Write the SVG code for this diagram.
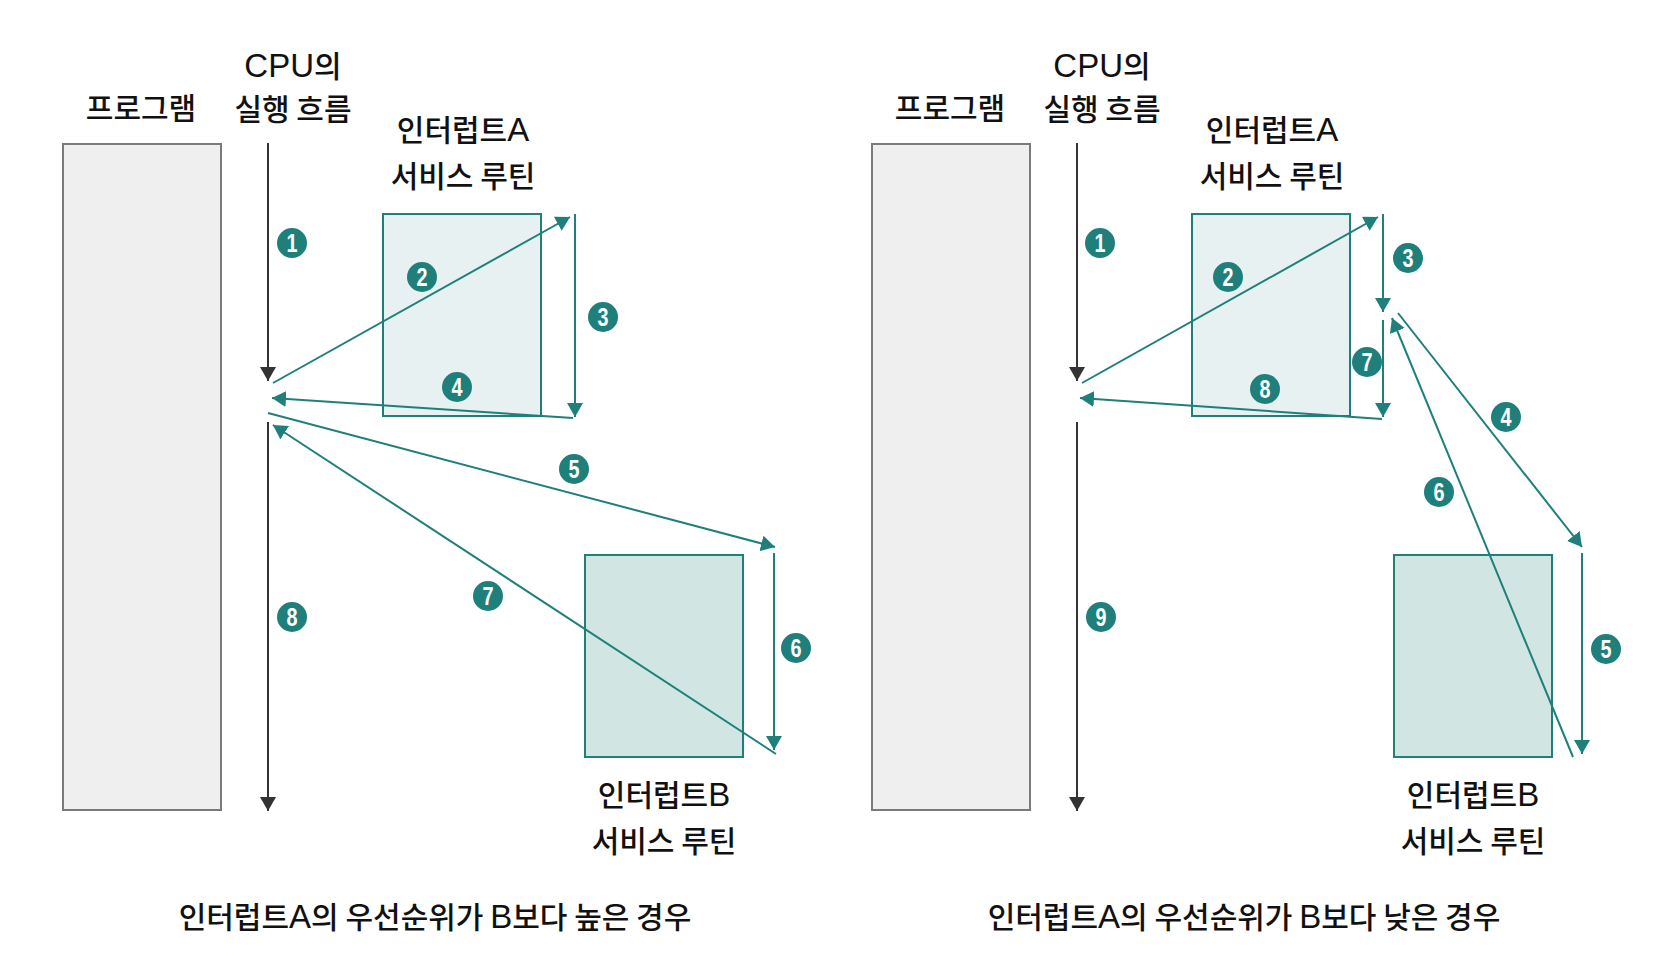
<svg xmlns="http://www.w3.org/2000/svg" width="1654" height="978" viewBox="0 0 1654 978">
<style>
.prog{fill:#efefef;stroke:#7a7a7a;stroke-width:2}
.isrA{fill:#e7f1f1;stroke:#1f7f7a;stroke-width:2}
.isrB{fill:#d1e6e3;stroke:#1f7f7a;stroke-width:2}
.cpu{stroke:#333;stroke-width:2;fill:none}
.tl{stroke:#1f7f7a;stroke-width:2;fill:none;marker-end:url(#ht)}
.cpua{marker-end:url(#hd)}
.lbl{font-family:"Noto Sans CJK KR","Noto Sans",sans-serif;font-size:30px;font-weight:500;fill:#111;text-anchor:middle}
.lat{font-family:"Liberation Sans",Arial,sans-serif;font-size:33px;font-weight:400}
.num circle{fill:#1f7f7a}
.num text{font-family:"Liberation Sans",Arial,sans-serif;font-weight:bold;font-size:25px;fill:#fff;text-anchor:middle}
</style>
<defs>
<marker id="ht" markerUnits="userSpaceOnUse" markerWidth="16" markerHeight="16" refX="14" refY="8" orient="auto" viewBox="0 0 16 16"><path d="M0,0 L14,8 L0,16 z" fill="#1f7f7a"/></marker>
<marker id="hd" markerUnits="userSpaceOnUse" markerWidth="16" markerHeight="16" refX="14" refY="8" orient="auto" viewBox="0 0 16 16"><path d="M0,0 L14,8 L0,16 z" fill="#333"/></marker>
</defs>
<rect width="1654" height="978" fill="#fff"/>

<!-- LEFT PANEL -->
<g id="program-left"><rect class="prog" x="63" y="144" width="158" height="666"/><text class="lbl" x="141" y="119">프로그램</text></g>
<g id="cpu-left"><text class="lbl" x="293" y="77"><tspan class="lat">CPU</tspan>의</text><text class="lbl" x="293" y="120">실행 흐름</text></g>
<g id="isrA-left"><rect class="isrA" x="383" y="214" width="158" height="202"/><text class="lbl" x="463" y="141">인터럽트<tspan class="lat">A</tspan></text><text class="lbl" x="463" y="187">서비스 루틴</text></g>
<g id="isrB-left"><rect class="isrB" x="585" y="555" width="158" height="202"/><text class="lbl" x="664" y="806">인터럽트<tspan class="lat">B</tspan></text><text class="lbl" x="664" y="852">서비스 루틴</text></g>
<text class="lbl" x="435" y="928">인터럽트<tspan class="lat">A</tspan>의 우선순위가 <tspan class="lat">B</tspan>보다 높은 경우</text>

<!-- RIGHT PANEL -->
<g id="program-right"><rect class="prog" x="872" y="144" width="158" height="666"/><text class="lbl" x="950" y="119">프로그램</text></g>
<g id="cpu-right"><text class="lbl" x="1102" y="77"><tspan class="lat">CPU</tspan>의</text><text class="lbl" x="1102" y="120">실행 흐름</text></g>
<g id="isrA-right"><rect class="isrA" x="1192" y="214" width="158" height="202"/><text class="lbl" x="1272" y="141">인터럽트<tspan class="lat">A</tspan></text><text class="lbl" x="1272" y="187">서비스 루틴</text></g>
<g id="isrB-right"><rect class="isrB" x="1394" y="555" width="158" height="202"/><text class="lbl" x="1473" y="806">인터럽트<tspan class="lat">B</tspan></text><text class="lbl" x="1473" y="852">서비스 루틴</text></g>
<text class="lbl" x="1244" y="928">인터럽트<tspan class="lat">A</tspan>의 우선순위가 <tspan class="lat">B</tspan>보다 낮은 경우</text>

<g id="connectors">
<line class="cpu cpua" x1="268" y1="143" x2="268" y2="381"/>
<line class="cpu cpua" x1="268" y1="422" x2="268" y2="811"/>
<line class="tl" x1="273" y1="383" x2="570" y2="217"/>
<line class="tl" x1="575" y1="214" x2="575" y2="417"/>
<line class="tl" x1="573" y1="418" x2="272" y2="398"/>
<line class="tl" x1="268" y1="413" x2="775" y2="547"/>
<line class="tl" x1="774" y1="553" x2="774" y2="750"/>
<line class="tl" x1="776" y1="754" x2="273" y2="425"/>

<line class="cpu cpua" x1="1077" y1="143" x2="1077" y2="381"/>
<line class="cpu cpua" x1="1077" y1="422" x2="1077" y2="811"/>
<line class="tl" x1="1082" y1="383" x2="1378" y2="217"/>
<line class="tl" x1="1383" y1="214" x2="1383" y2="312"/>
<line class="tl" x1="1383" y1="320" x2="1383" y2="417"/>
<line class="tl" x1="1382" y1="419" x2="1080" y2="398"/>
<line class="tl" x1="1398" y1="313" x2="1582" y2="547"/>
<line class="tl" x1="1582" y1="553" x2="1582" y2="754"/>
<line class="tl" x1="1573" y1="757" x2="1392" y2="318"/>
</g>

<g id="numbers-left" class="num">
<g><circle cx="292" cy="243" r="15"/><text x="292" y="252" textLength="11" lengthAdjust="spacingAndGlyphs">1</text></g>
<g><circle cx="422" cy="277" r="15"/><text x="422" y="286" textLength="11" lengthAdjust="spacingAndGlyphs">2</text></g>
<g><circle cx="603" cy="317" r="15"/><text x="603" y="326" textLength="11" lengthAdjust="spacingAndGlyphs">3</text></g>
<g><circle cx="457" cy="387" r="15"/><text x="457" y="396" textLength="11" lengthAdjust="spacingAndGlyphs">4</text></g>
<g><circle cx="574" cy="469" r="15"/><text x="574" y="478" textLength="11" lengthAdjust="spacingAndGlyphs">5</text></g>
<g><circle cx="796" cy="648" r="15"/><text x="796" y="657" textLength="11" lengthAdjust="spacingAndGlyphs">6</text></g>
<g><circle cx="488" cy="596" r="15"/><text x="488" y="605" textLength="11" lengthAdjust="spacingAndGlyphs">7</text></g>
<g><circle cx="292" cy="617" r="15"/><text x="292" y="626" textLength="11" lengthAdjust="spacingAndGlyphs">8</text></g>
</g>
<g id="numbers-right" class="num">
<g><circle cx="1100" cy="243" r="15"/><text x="1100" y="252" textLength="11" lengthAdjust="spacingAndGlyphs">1</text></g>
<g><circle cx="1228" cy="277" r="15"/><text x="1228" y="286" textLength="11" lengthAdjust="spacingAndGlyphs">2</text></g>
<g><circle cx="1408" cy="258" r="15"/><text x="1408" y="267" textLength="11" lengthAdjust="spacingAndGlyphs">3</text></g>
<g><circle cx="1506" cy="417" r="15"/><text x="1506" y="426" textLength="11" lengthAdjust="spacingAndGlyphs">4</text></g>
<g><circle cx="1606" cy="649" r="15"/><text x="1606" y="658" textLength="11" lengthAdjust="spacingAndGlyphs">5</text></g>
<g><circle cx="1439" cy="492" r="15"/><text x="1439" y="501" textLength="11" lengthAdjust="spacingAndGlyphs">6</text></g>
<g><circle cx="1367" cy="362" r="15"/><text x="1367" y="371" textLength="11" lengthAdjust="spacingAndGlyphs">7</text></g>
<g><circle cx="1265" cy="389" r="15"/><text x="1265" y="398" textLength="11" lengthAdjust="spacingAndGlyphs">8</text></g>
<g><circle cx="1101" cy="617" r="15"/><text x="1101" y="626" textLength="11" lengthAdjust="spacingAndGlyphs">9</text></g>
</g>
</svg>
